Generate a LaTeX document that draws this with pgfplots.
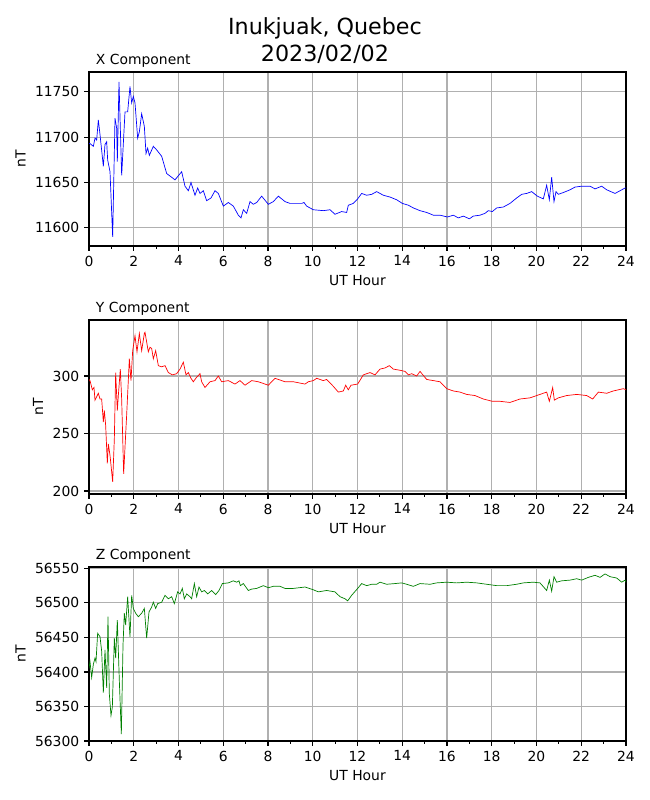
\documentclass[border=0pt]{standalone}
\usepackage{fontspec}
\setmainfont{DejaVu Sans}
\usepackage{pgfplots}
\pgfplotsset{compat=1.18}
\definecolor{gridgray}{RGB}{176,176,176}
\definecolor{mplgreen}{RGB}{0,128,0}
\pgfplotsset{
  magpanel/.style={
    scale only axis, width=386.64pt, height=125.28pt,
    anchor=south west,
    xmin=0, xmax=24,
    xtick={0,2,...,24}, minor xtick={1,3,...,23},
    xtick pos=bottom, ytick pos=left,
    tick align=outside,
    major tick length=3.5pt, minor tick length=2pt,
    every tick/.style={black, line width=0.8pt},
    axis line style={line width=0.8pt},
    grid=major,
    major grid style={gridgray, line width=0.8pt},
    scaled ticks=false,
    /pgf/number format/assume math mode=true,
    /pgf/number format/1000 sep={},
    tick label style={font=\fontsize{10}{12}\selectfont},
    label style={font=\fontsize{10}{12}\selectfont},
    xlabel={UT Hour}, ylabel={nT},
    title style={font=\fontsize{10}{12}\selectfont, at={(0,1)}, anchor=south west, xshift=1.5pt, yshift=-6.5pt},
    clip=true,
  }
}
\begin{document}
\begin{tikzpicture}
\path[use as bounding box, fill=white] (0,0) rectangle (468pt,576pt);
\node[align=center, font=\fontsize{16}{19.2}\selectfont] at (234pt,546.8pt) {Inukjuak, Quebec\\2023/02/02};

\begin{axis}[magpanel, at={(64.08pt,398.88pt)}, ymin=11580, ymax=11772,
  ytick={11600,11650,11700,11750}, title={X Component}]
\addplot[blue, line width=0.5pt] coordinates {
(0,11693) (0.045,11693) (0.194,11690) (0.268,11699) (0.343,11697) (0.417,11719) (0.492,11703)
(0.641,11668) (0.715,11692) (0.790,11695) (0.834,11675) (0.939,11662) (1.058,11590) (1.162,11721)
(1.236,11710) (1.266,11673) (1.341,11761) (1.460,11658) (1.609,11728) (1.728,11728) (1.832,11756)
(1.907,11738) (1.981,11745) (2.056,11738) (2.175,11699) (2.250,11706) (2.354,11726) (2.473,11712)
(2.548,11682) (2.622,11688) (2.697,11680) (2.875,11690) (3.024,11686) (3.248,11679) (3.471,11660)
(3.844,11653) (4.142,11662) (4.290,11646) (4.439,11641) (4.559,11650) (4.737,11636) (4.857,11644)
(4.961,11638) (5.110,11641) (5.259,11630) (5.453,11633) (5.631,11641) (5.780,11638) (6.004,11624)
(6.227,11628) (6.451,11624) (6.674,11614) (6.793,11611) (6.898,11620) (7.047,11616) (7.196,11629)
(7.345,11626) (7.494,11628) (7.717,11635) (8.015,11626) (8.238,11629) (8.462,11635) (8.760,11629)
(8.983,11627) (9.505,11627) (9.609,11628) (9.728,11624) (10.026,11620) (10.473,11619) (10.771,11620)
(10.994,11615) (11.292,11618) (11.516,11617) (11.590,11625) (11.814,11627) (12.008,11632) (12.186,11638)
(12.410,11636) (12.633,11637) (12.857,11640) (13.155,11636) (13.453,11634) (13.751,11631) (14.005,11627)
(14.273,11625) (14.496,11622) (14.794,11619) (15.092,11617) (15.390,11614) (15.688,11614) (16.016,11612)
(16.284,11614) (16.507,11611) (16.730,11613) (16.998,11610) (17.177,11613) (17.475,11614) (17.698,11616)
(17.847,11619) (18.026,11618) (18.220,11622) (18.518,11623) (18.816,11627) (19.114,11633) (19.337,11637)
(19.561,11638) (19.784,11640) (20.037,11635) (20.305,11632) (20.454,11647) (20.574,11631) (20.678,11656)
(20.782,11629) (20.872,11640) (20.976,11637) (21.200,11639) (21.498,11642) (21.721,11645) (22.019,11646)
(22.392,11646) (22.616,11643) (22.914,11646) (23.138,11642) (23.511,11638) (23.734,11641) (23.958,11644)
(24,11644)
};
\end{axis}

\begin{axis}[magpanel, at={(64.08pt,220.32pt)}, ymin=197.4, ymax=348.7,
  ytick={200,250,300}, title={Y Component}]
\addplot[red, line width=0.5pt] coordinates {
(0,297) (0.045,296) (0.149,288) (0.223,290) (0.268,279) (0.417,285) (0.492,280) (0.566,280)
(0.641,260) (0.685,270) (0.745,257) (0.819,224) (0.864,241) (0.939,231) (1.058,208) (1.132,245)
(1.192,303) (1.266,270) (1.311,283) (1.400,306) (1.460,280) (1.549,215) (1.609,238) (1.683,266)
(1.803,315) (1.877,296) (1.952,322) (2.056,335) (2.145,321) (2.250,337) (2.354,322) (2.473,337)
(2.503,338) (2.652,321) (2.726,325) (2.801,324) (2.875,315) (2.980,322) (3.099,309) (3.248,308)
(3.397,309) (3.546,303) (3.725,301) (3.918,302) (4.067,306) (4.216,312) (4.335,301) (4.439,303)
(4.559,298) (4.663,295) (4.812,299) (4.961,302) (5.035,295) (5.184,290) (5.408,295) (5.631,296)
(5.780,300) (5.929,295) (6.227,296) (6.525,293) (6.749,296) (6.972,292) (7.270,296) (7.568,295)
(8.015,292) (8.313,298) (8.760,295) (9.132,295) (9.654,293) (9.803,295) (10.026,296) (10.175,298)
(10.473,296) (10.622,297) (10.920,291) (11.143,286) (11.367,287) (11.471,292) (11.590,288) (11.710,292)
(12.008,293) (12.261,301) (12.559,303) (12.782,301) (13.006,306) (13.229,307) (13.423,309) (13.602,306)
(13.900,305) (14.124,304) (14.273,301) (14.422,302) (14.645,300) (14.794,304) (15.092,297) (15.390,296)
(15.688,295) (15.986,289) (16.284,287) (16.581,286) (16.879,284) (17.251,283) (17.624,280) (18.026,278)
(18.369,278) (18.816,277) (19.263,280) (19.710,281) (20.156,284) (20.454,286) (20.574,278) (20.723,290)
(20.797,279) (20.976,281) (21.349,283) (21.796,284) (22.243,283) (22.511,280) (22.765,286) (23.138,285)
(23.436,287) (23.883,289) (24,288)
};
\end{axis}

\begin{axis}[magpanel, at={(64.08pt,42.48pt)}, ymin=56300, ymax=56552,
  ytick={56300,56350,56400,56450,56500,56550}, title={Z Component}]
\addplot[mplgreen, line width=0.5pt] coordinates {
(0,56405) (0.045,56415) (0.119,56392) (0.194,56411) (0.268,56420) (0.313,56415) (0.387,56456)
(0.492,56451) (0.566,56430) (0.641,56370) (0.715,56432) (0.790,56377) (0.849,56480) (0.909,56368)
(0.983,56337) (1.043,56349) (1.132,56449) (1.192,56420) (1.266,56475) (1.356,56387) (1.445,56310)
(1.520,56439) (1.579,56485) (1.639,56468) (1.728,56509) (1.832,56451) (1.907,56511) (1.981,56492)
(2.086,56485) (2.205,56480) (2.354,56485) (2.473,56492) (2.577,56449) (2.682,56487) (2.801,56494)
(2.875,56501) (2.980,56492) (3.069,56499) (3.248,56501) (3.397,56511) (3.546,56506) (3.695,56509)
(3.814,56499) (3.963,56516) (4.067,56513) (4.171,56521) (4.261,56506) (4.365,56513) (4.514,56509)
(4.588,56506) (4.708,56528) (4.812,56509) (4.916,56523) (5.035,56516) (5.155,56518) (5.304,56513)
(5.482,56518) (5.661,56512) (5.810,56518) (5.959,56528) (6.227,56529) (6.451,56532) (6.600,56530)
(6.704,56532) (6.764,56525) (6.898,56528) (7.121,56518) (7.270,56520) (7.494,56521) (7.792,56525)
(8.015,56522) (8.238,56524) (8.536,56524) (8.760,56521) (9.132,56521) (9.654,56523) (10.026,56519)
(10.250,56516) (10.622,56518) (10.994,56516) (11.218,56509) (11.441,56506) (11.561,56503) (11.739,56511)
(12.008,56521) (12.186,56528) (12.410,56525) (12.633,56527) (12.857,56527) (13.006,56530) (13.304,56527)
(13.677,56528) (13.975,56529) (14.198,56527) (14.496,56524) (14.794,56528) (15.241,56527) (15.539,56529)
(15.986,56530) (16.432,56529) (16.879,56530) (17.326,56529) (17.773,56527) (18.220,56525) (18.667,56525)
(19.114,56527) (19.412,56529) (19.859,56530) (20.156,56529) (20.454,56518) (20.574,56533) (20.678,56517)
(20.782,56538) (20.902,56530) (21.125,56532) (21.498,56533) (21.796,56535) (22.019,56533) (22.318,56537)
(22.616,56540) (22.840,56537) (23.063,56542) (23.287,56538) (23.585,56536) (23.809,56530) (23.958,56533)
(24,56530)
};
\end{axis}
\end{tikzpicture}
\end{document}
